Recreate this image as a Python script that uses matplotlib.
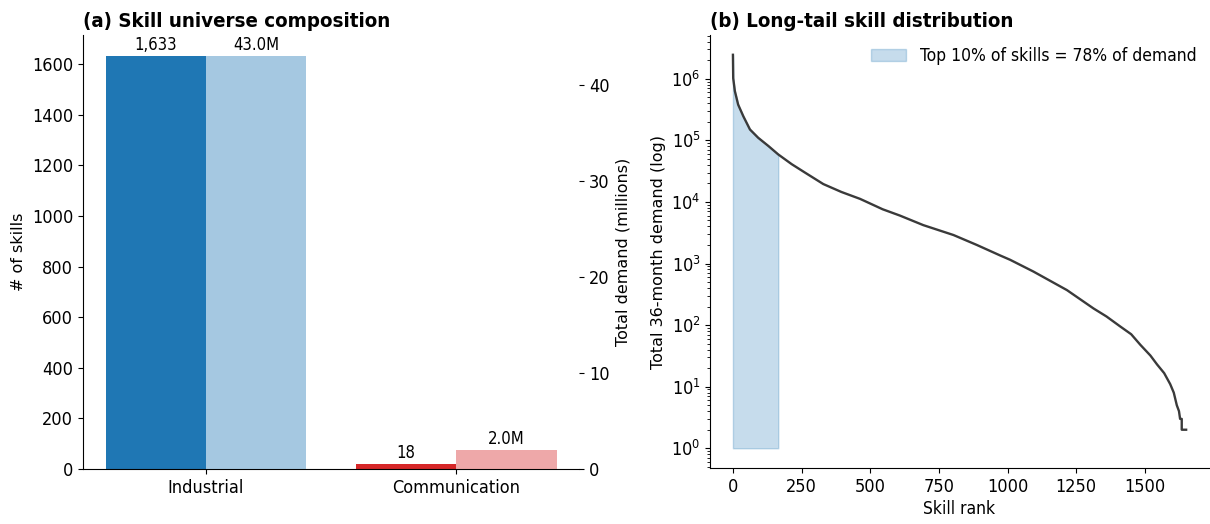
import matplotlib
matplotlib.use("Agg")
import matplotlib.pyplot as plt
import numpy as np

plt.rcParams["font.family"] = "DejaVu Sans"
plt.rcParams["font.stretch"] = "condensed"

# ---- panel (a) data ----
categories = ["Industrial", "Communication"]
skill_counts = [1633, 18]
demand_millions = [43.0, 2.0]

# ---- panel (b) data: demand by skill rank ----
skill_rank = [0, 1, 7, 19, 38, 62, 92, 129, 165, 214, 262, 329, 395, 463, 487,
              545, 608, 693, 803, 888, 973, 1009, 1094, 1216, 1313, 1360, 1410,
              1450, 1483, 1520, 1544, 1570, 1592, 1605, 1616, 1624, 1628, 1634,
              1634, 1650]
skill_demand = [2.45e6, 1.02e6, 6.3e5, 3.8e5, 2.45e5, 1.5e5, 1.1e5, 8.1e4, 5.9e4,
                4.1e4, 3.0e4, 1.95e4, 1.45e4, 1.12e4, 1.0e4, 7.6e3, 6.0e3, 4.2e3,
                2.9e3, 2.0e3, 1.35e3, 1.15e3, 740, 370, 186, 138, 95, 71, 48, 32,
                23, 16.6, 11, 8, 5, 4, 3, 3, 2, 2]
top_n = 165
legend_text = "Top 10% of skills = 78% of demand"

count_colors = ["#1f77b4", "#d62728"]

fig = plt.figure(figsize=(12.1, 5.24), dpi=100)
ax = fig.add_axes([0.0686, 0.105, 0.41, 0.828])
ax_b = fig.add_axes([0.587, 0.107, 0.412, 0.826])

# (a) composition
x = np.arange(len(categories))
w = 0.4
ax2 = ax.twinx()
ax.bar(x - w / 2, skill_counts, w, color=count_colors)
ax2.bar(x + w / 2, demand_millions, w, color=count_colors, alpha=0.4)
for xi, v in zip(x, skill_counts):
    ax.annotate(f"{v:,}", (xi - w / 2, v), xytext=(0, 1.5), textcoords="offset points",
                ha="center", va="bottom", fontsize=12)
for xi, v in zip(x, demand_millions):
    ax2.annotate(f"{v:.1f}M", (xi + w / 2, v), xytext=(0, 1.5), textcoords="offset points",
                 ha="center", va="bottom", fontsize=12)
ax.set_ylim(0, max(skill_counts) * 1.05)
ax2.set_ylim(0, max(demand_millions) * 1.05)
ax.set_xticks(x)
ax.set_xticklabels(categories)
ax.set_ylabel("# of skills", fontsize=11.5, fontstretch="normal")
ax2.set_ylabel("Total demand (millions)", fontsize=11.5, fontstretch="normal")
ax.tick_params(labelsize=13)
ax2.tick_params(axis="y", labelsize=13)
for s in ["top", "right"]:
    ax.spines[s].set_visible(False)
for s in ["top", "right", "left", "bottom"]:
    ax2.spines[s].set_visible(False)
ax.set_title("(a) Skill universe composition", loc="left", fontsize=14.7, fontweight="bold")

# (b) long tail
ax_b.plot(skill_rank, skill_demand, color="#3a3a3a", lw=1.7)
top_rank = [r for r in skill_rank if r <= top_n]
top_vals = [d for r, d in zip(skill_rank, skill_demand) if r <= top_n]
ax_b.fill_between(top_rank, 1, top_vals, color="#1f77b4", alpha=0.25, label=legend_text)
ax_b.set_yscale("log")
ax_b.set_xticks([0, 250, 500, 750, 1000, 1250, 1500])
ax_b.tick_params(labelsize=13)
ax_b.set_xlabel("Skill rank", fontsize=12.5, labelpad=3)
ax_b.set_ylabel("Total 36-month demand (log)", fontsize=11.5, fontstretch="normal")
ax_b.legend(loc="upper right", frameon=False, fontsize=12.5, handlelength=2.0,
            borderaxespad=0.3)
for s in ["top", "right"]:
    ax_b.spines[s].set_visible(False)
ax_b.set_title("(b) Long-tail skill distribution", loc="left", fontsize=14.7, fontweight="bold")

fig.savefig("out.png", dpi=100)
